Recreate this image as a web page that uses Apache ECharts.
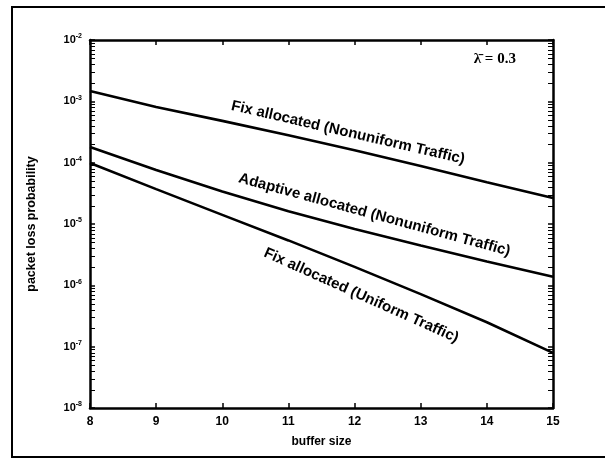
<!DOCTYPE html>
<html>
<head>
<meta charset="utf-8">
<script src="https://cdn.jsdelivr.net/npm/echarts@6/dist/echarts.min.js"></script>
<style>
  html, body { margin: 0; padding: 0; background: #fff; }
  #chart { width: 605px; height: 460px; }
</style>
</head>
<body>
<div id="chart"></div>
<script>
// Buffer sizes (x) and packet loss probability for each allocation scheme
const bufferSize = [8, 9, 10, 11, 12, 13, 14, 15];
const fixNonuniform = [1.47e-3, 8.1e-4, 4.8e-4, 2.8e-4, 1.6e-4, 8.8e-5, 4.8e-5, 2.65e-5];
const adaptiveNonuniform = [1.8e-4, 7.6e-5, 3.39e-5, 1.62e-5, 8.3e-6, 4.47e-6, 2.45e-6, 1.38e-6];
const fixUniform = [9.9e-5, 3.7e-5, 1.41e-5, 5.4e-6, 2.0e-6, 7.2e-7, 2.5e-7, 7.9e-8];

const seriesNames = [
  'Fix allocated (Nonuniform Traffic)',
  'Adaptive allocated (Nonuniform Traffic)',
  'Fix allocated (Uniform Traffic)'
];
const seriesValues = [fixNonuniform, adaptiveNonuniform, fixUniform];

const xTickMin = 8, xTickMax = 15;
const yMin = 1e-8, yMax = 1e-2;
const decadeExps = [-8, -7, -6, -5, -4, -3];
const minorMultipliers = [2, 3, 4, 5, 6, 7, 8, 9];
const lambdaText = '\u03BB\u0304 = 0.3';

const chart = echarts.init(document.getElementById('chart'), null, { renderer: 'canvas' });

const font = 'Liberation Sans, Arial, sans-serif';
const tickStyle = { show: true, inside: true, length: 5, lineStyle: { color: '#000', width: 1.5 } };
const axisLineStyle = { show: true, lineStyle: { color: '#000', width: 2.5 } };

function expLabel(v) {
  const e = Math.round(Math.log10(v));
  return '{b|10}{s|' + e + '}';
}

const option = {
  animation: false,
  backgroundColor: '#fff',
  grid: { left: 90, top: 40, right: 52, bottom: 52 },
  xAxis: [
    {
      type: 'value', min: xTickMin, max: xTickMax, interval: 1,
      axisLine: axisLineStyle, axisTick: tickStyle, splitLine: { show: false },
      axisLabel: { color: '#000', fontFamily: font, fontWeight: 'bold', fontSize: 12, margin: 8 },
      name: 'buffer size', nameLocation: 'middle', nameGap: 28,
      nameTextStyle: { color: '#000', fontFamily: font, fontWeight: 'bold', fontSize: 12 }
    },
    {
      type: 'value', min: xTickMin, max: xTickMax, interval: 1, position: 'top',
      axisLine: axisLineStyle, axisTick: tickStyle, axisLabel: { show: false }, splitLine: { show: false }
    }
  ],
  yAxis: [
    {
      type: 'log', logBase: 10, min: yMin, max: yMax, splitNumber: 6,
      axisLine: axisLineStyle, axisTick: tickStyle,
      splitLine: { show: false },
      axisLabel: {
        formatter: expLabel, margin: 8,
        rich: {
          b: { color: '#000', fontFamily: font, fontWeight: 'bold', fontSize: 11 },
          s: { color: '#000', fontFamily: font, fontWeight: 'bold', fontSize: 7, verticalAlign: 'top', padding: [0, 0, 7, 0] }
        }
      },
      name: 'packet loss probability', nameLocation: 'middle', nameGap: 52, nameRotate: 90,
      nameTextStyle: { color: '#000', fontFamily: font, fontWeight: 'bold', fontSize: 12.5 }
    },
    {
      type: 'log', logBase: 10, min: yMin, max: yMax, splitNumber: 6, position: 'right',
      axisLine: axisLineStyle, axisTick: tickStyle,
      axisLabel: { show: false }, splitLine: { show: false }
    }
  ],
  series: seriesValues.map((vals, i) => ({
    name: seriesNames[i],
    type: 'line',
    xAxisIndex: 0, yAxisIndex: 0,
    data: bufferSize.map((x, k) => [x, vals[k]]),
    showSymbol: false,
    smooth: false,
    lineStyle: { color: '#000', width: 2.6 },
    z: 3
  }))
};

chart.setOption(option);

// Curve labels placed along each line, rotated to the local slope
const labelSpec = [
  { series: 0, at: 11.9, dy: -16, extraDeg: 0 },
  { series: 1, at: 12.3, dy: -19, extraDeg: 1 },
  { series: 2, at: 12.1, dy: 26, extraDeg: 2 }
];

function valueAt(vals, x) {
  const i = Math.min(Math.floor(x - xTickMin), vals.length - 2);
  const t = x - bufferSize[i];
  const a = Math.log10(vals[i]), b = Math.log10(vals[i + 1]);
  return Math.pow(10, a + (b - a) * t);
}

const graphics = [];
labelSpec.forEach(spec => {
  const vals = seriesValues[spec.series];
  const p = chart.convertToPixel({ gridIndex: 0 }, [spec.at, valueAt(vals, spec.at)]);
  const p1 = chart.convertToPixel({ gridIndex: 0 }, [spec.at - 0.5, valueAt(vals, spec.at - 0.5)]);
  const p2 = chart.convertToPixel({ gridIndex: 0 }, [spec.at + 0.5, valueAt(vals, spec.at + 0.5)]);
  const ang = Math.atan2(p2[1] - p1[1], p2[0] - p1[0]) + spec.extraDeg * Math.PI / 180;
  graphics.push({
    type: 'text',
    x: p[0], y: p[1] + spec.dy,
    rotation: -ang,
    style: {
      text: seriesNames[spec.series],
      fill: '#000', font: 'bold 15px ' + font,
      textAlign: 'center', textVerticalAlign: 'middle'
    },
    z: 10
  });
});

// Minor log ticks (2..9 per decade) on the left and right axes, pointing inward
const leftX = chart.convertToPixel({ gridIndex: 0 }, [xTickMin, yMin])[0];
const rightX = chart.convertToPixel({ gridIndex: 0 }, [xTickMax, yMin])[0];
decadeExps.forEach(e => {
  minorMultipliers.forEach(m => {
    const py = Math.round(chart.convertToPixel({ gridIndex: 0 }, [xTickMin, m * Math.pow(10, e)])[1]) + 0.5;
    graphics.push({
      type: 'line', shape: { x1: leftX, y1: py, x2: leftX + 5, y2: py },
      style: { stroke: '#000', lineWidth: 1 }, z: 5
    });
    graphics.push({
      type: 'line', shape: { x1: rightX, y1: py, x2: rightX - 5, y2: py },
      style: { stroke: '#000', lineWidth: 1 }, z: 5
    });
  });
});

// Load parameter annotation, top right of the plot
const corner = chart.convertToPixel({ gridIndex: 0 }, [14.12, 4.9e-3]);
graphics.push({
  type: 'text',
  x: corner[0], y: corner[1],
  style: {
    text: lambdaText, fill: '#000',
    font: 'bold 15px Liberation Serif, serif',
    textAlign: 'center', textVerticalAlign: 'middle'
  },
  z: 10
});

// Outer frame around the figure
graphics.push({
  type: 'rect',
  shape: { x: 12, y: 7, width: 600, height: 450 },
  style: { fill: 'none', stroke: '#000', lineWidth: 2 },
  z: 1
});

chart.setOption({ graphic: graphics });
</script>
</body>
</html>
